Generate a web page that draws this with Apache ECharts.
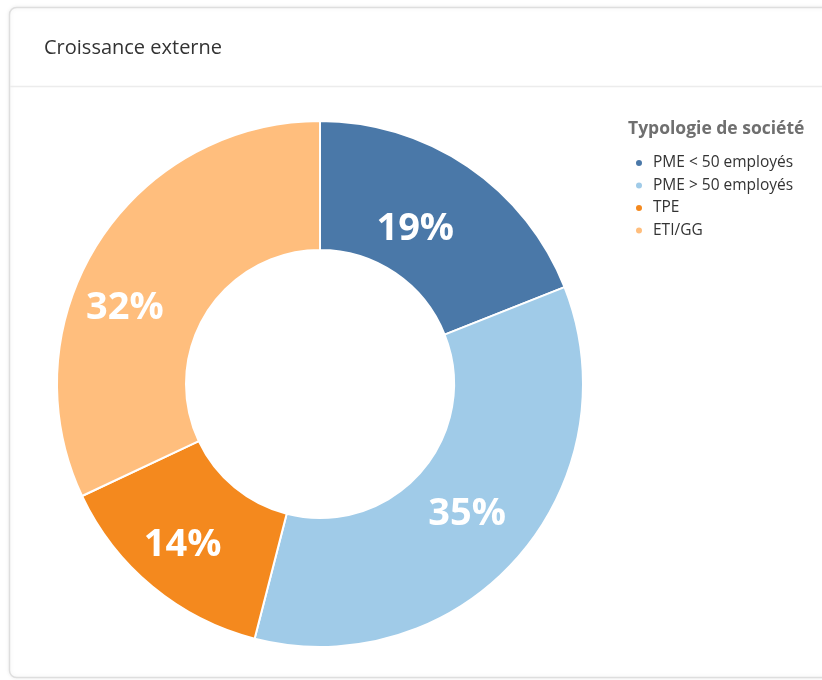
<!DOCTYPE html>
<html>
<head>
<meta charset="utf-8">
<script src="https://cdn.jsdelivr.net/npm/echarts@6/dist/echarts.min.js"></script>
<style>
  html, body { margin: 0; padding: 0; background: #ffffff; }
  #chart { width: 822px; height: 680px; }
</style>
</head>
<body>
<div id="chart"></div>
<script>
const chartTitle = "Croissance externe";
const legendTitle = "Typologie de société";
const categories = ["PME < 50 employés", "PME > 50 employés", "TPE", "ETI/GG"];
const values = [19, 35, 14, 32];
const colors = ["#4A78A8", "#A0CBE8", "#F4891E", "#FFBE7D"];

const chart = echarts.init(document.getElementById('chart'), null, { renderer: 'canvas' });
const FONT = '"Open Sans", "Noto Sans", sans-serif';

// per-slice label nudges (styling only)
const labelStyleBySlice = {
  "PME < 50 employés": { offset: [-18, 12] },
  "PME > 50 employés": { offset: [-4, -3] },
  "TPE": { offset: [-9, 6] },
  "ETI/GG": { offset: [-25, 32] }
};

const option = {
  animation: false,
  color: colors,
  graphic: [
    {
      type: 'rect', z: -10,
      shape: { x: 9.5, y: 7.5, width: 840, height: 670, r: 7 },
      style: { fill: '#ffffff', stroke: '#dedede', lineWidth: 1.5,
               shadowBlur: 4, shadowColor: 'rgba(0,0,0,0.08)' }
    },
    {
      type: 'line', z: -9,
      shape: { x1: 10, y1: 86.5, x2: 822, y2: 86.5 },
      style: { stroke: '#ececec', lineWidth: 1.5 }
    }
  ],
  title: [
    {
      text: chartTitle, left: 39, top: 33,
      textStyle: { fontFamily: FONT, fontSize: 20, fontWeight: 'normal', color: '#333333' }
    },
    {
      text: legendTitle, left: 623, top: 115,
      textStyle: { fontFamily: FONT, fontSize: 17.5, fontWeight: 'bold', color: '#6f6f6f' }
    }
  ],
  legend: {
    orient: 'vertical',
    left: 629, top: 149,
    icon: 'circle',
    itemWidth: 8, itemHeight: 8,
    itemGap: 4.5,
    textStyle: { fontFamily: FONT, fontSize: 15.5, color: '#333333', lineHeight: 18, padding: [0, 0, 0, 5] },
    data: categories
  },
  series: [
    {
      type: 'pie',
      center: [320, 384],
      radius: [134, 263],
      startAngle: 90,
      clockwise: true,
      avoidLabelOverlap: false,
      itemStyle: { borderColor: '#ffffff', borderWidth: 2 },
      label: {
        show: true, position: 'inside',
        formatter: '{d}%',
        fontFamily: FONT, fontSize: 38, fontWeight: 'bold', color: '#ffffff'
      },
      labelLine: { show: false },
      emphasis: { disabled: true },
      data: categories.map((c, i) => ({ name: c, value: values[i], label: labelStyleBySlice[c] }))
    }
  ]
};
chart.setOption(option);
</script>
</body>
</html>
